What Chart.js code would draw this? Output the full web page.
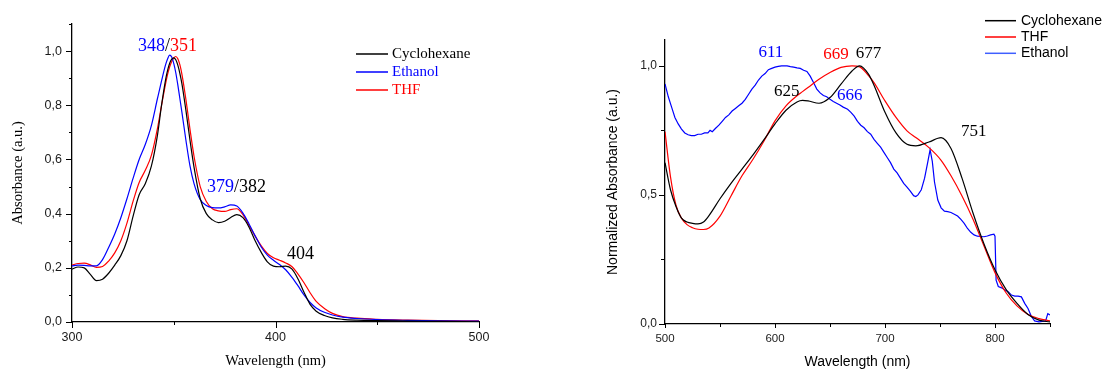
<!DOCTYPE html>
<html><head><meta charset="utf-8">
<script src="https://cdn.jsdelivr.net/npm/chart.js@4.4.1/dist/chart.umd.min.js"></script>
<style>
html,body{margin:0;padding:0;background:#fff;width:1103px;height:370px;overflow:hidden;}
#w1{position:absolute;left:0;top:0;width:560px;height:370px;}
#w2{position:absolute;left:560px;top:0;width:543px;height:370px;}
canvas{display:block;}
</style></head><body>
<div id="w1"><canvas id="c1" width="560" height="370"></canvas></div>
<div id="w2"><canvas id="c2" width="543" height="370"></canvas></div>
<script>
// ---------- LEFT PANEL DATA (absorbance) ----------
const leftWavelength = [300,303,306,309,312,315,318,321,324,327,330,333,336,339,342,344,346,347,348,349,350,351,352,353,354,356,358,360,363,366,369,372,375,378,381,384,387,390,393,396,399,402,405,408,411,414,417,420,424,428,433,440,450,465,480,500];
const leftCyclohexane = [0.195,0.203,0.200,0.176,0.153,0.158,0.180,0.210,0.245,0.300,0.390,0.470,0.510,0.575,0.690,0.800,0.895,0.930,0.955,0.970,0.975,0.968,0.948,0.918,0.880,0.780,0.670,0.570,0.455,0.400,0.377,0.367,0.372,0.386,0.396,0.385,0.350,0.300,0.257,0.222,0.206,0.204,0.206,0.196,0.160,0.110,0.065,0.040,0.024,0.015,0.010,0.007,0.005,0.003,0.002,0.001];
const leftEthanol = [0.207,0.210,0.209,0.207,0.207,0.230,0.275,0.325,0.385,0.455,0.530,0.600,0.655,0.725,0.825,0.890,0.950,0.972,0.985,0.978,0.955,0.920,0.875,0.825,0.775,0.670,0.575,0.510,0.452,0.430,0.422,0.421,0.425,0.432,0.428,0.402,0.362,0.318,0.277,0.247,0.228,0.212,0.193,0.166,0.134,0.100,0.072,0.052,0.036,0.026,0.018,0.013,0.009,0.006,0.004,0.003];
const leftTHF = [0.210,0.216,0.217,0.211,0.202,0.205,0.225,0.255,0.300,0.365,0.445,0.515,0.560,0.615,0.715,0.800,0.880,0.915,0.942,0.962,0.975,0.980,0.972,0.950,0.915,0.820,0.710,0.610,0.500,0.445,0.418,0.410,0.408,0.415,0.418,0.396,0.357,0.317,0.281,0.253,0.237,0.228,0.218,0.205,0.178,0.145,0.108,0.076,0.050,0.032,0.020,0.014,0.010,0.007,0.005,0.004];
const leftXTicks = [300,350,400,450,500];
const leftXLabels = ['300','','400','','500'];
const leftYTicks = [0,0.1,0.2,0.3,0.4,0.5,0.6,0.7,0.8,0.9,1.0,1.1];
const leftYLabels = ['0,0','','0,2','','0,4','','0,6','','0,8','','1,0',''];

// ---------- RIGHT PANEL DATA (normalized absorbance) ----------
const rightWavelength = [500,505,510,515,520,525,530,535,540,550,560,570,580,590,600,610,620,625,630,640,650,660,670,677,685,690,700,710,720,728,740,751,760,770,780,790,800,810,820,830,840,850];
const rightCyclohexane = [0.625,0.520,0.455,0.410,0.395,0.390,0.388,0.395,0.420,0.485,0.545,0.600,0.655,0.714,0.775,0.828,0.860,0.866,0.864,0.855,0.877,0.929,0.980,1.000,0.968,0.925,0.820,0.740,0.696,0.690,0.705,0.722,0.680,0.565,0.430,0.310,0.210,0.134,0.080,0.037,0.015,0.008];
const rightTHF = [0.745,0.570,0.460,0.410,0.385,0.373,0.367,0.366,0.372,0.418,0.496,0.574,0.638,0.709,0.787,0.845,0.884,0.900,0.916,0.948,0.974,0.994,1.000,0.996,0.962,0.935,0.864,0.800,0.748,0.722,0.683,0.634,0.574,0.496,0.406,0.302,0.199,0.121,0.070,0.037,0.021,0.012];
const rightEthanolWavelength = [500,503,506,509,512,515,518,521,524,527,530,533,536,539,541,543,546,549,552,555,558,561,564,567,570,573,576,579,582,585,588,591,594,597,600,603,606,611,614,617,620,623,626,629,632,635,638,641,644,647,650,653,656,659,662,666,669,672,675,678,681,684,687,690,693,696,699,702,705,708,711,714,717,720,723,726,728,730,733,736,739,741,743,745,748,751,754,757,760,763,766,769,772,775,778,781,784,787,790,793,796,799,800,801,803,806,809,812,815,818,821,824,827,830,833,836,840,843,846,848,850];
const rightEthanol = [0.930,0.880,0.840,0.800,0.775,0.755,0.740,0.733,0.730,0.730,0.735,0.735,0.740,0.740,0.750,0.745,0.758,0.770,0.785,0.800,0.810,0.825,0.835,0.845,0.855,0.870,0.890,0.910,0.925,0.945,0.960,0.970,0.985,0.990,0.995,0.998,1.000,1.000,0.997,0.995,0.992,0.990,0.983,0.978,0.960,0.935,0.910,0.895,0.885,0.880,0.870,0.862,0.855,0.848,0.840,0.832,0.820,0.805,0.785,0.770,0.760,0.745,0.735,0.715,0.700,0.685,0.665,0.645,0.625,0.600,0.585,0.565,0.545,0.530,0.515,0.497,0.494,0.500,0.520,0.565,0.630,0.675,0.630,0.550,0.480,0.450,0.437,0.435,0.432,0.425,0.418,0.405,0.390,0.370,0.355,0.345,0.340,0.339,0.338,0.341,0.345,0.348,0.340,0.170,0.145,0.140,0.132,0.125,0.112,0.108,0.108,0.105,0.080,0.060,0.030,0.012,0.008,0.010,0.012,0.040,0.035];
const rightXTicks = [500,550,600,650,700,750,800,850];
const rightXLabels = ['500','','600','','700','','800',''];
const rightYTicks = [0,0.25,0.5,0.75,1.0];
const rightYLabels = ['0,0','','0,5','','1,0'];

const BLUE = '#0000ff', RED = '#ff0000', BLACK = '#000000';

function zip(xs, ys) { return xs.map((x, i) => ({x: x, y: ys[i]})); }

const decorPlugin = {
  id: 'decor',
  afterDraw(chart, args, o) {
    const ctx = chart.ctx, xs = chart.scales.x, ys = chart.scales.y, ca = chart.chartArea;
    ctx.save();
    // tick marks (major / minor)
    ctx.strokeStyle = '#000'; ctx.lineWidth = 1;
    ctx.beginPath();
    o.xTicks.forEach((v, i) => {
      const px = Math.round(xs.getPixelForValue(v)) + 0.5;
      const len = o.xLabels[i] ? o.xMajor : o.xMinor;
      ctx.moveTo(px, ca.bottom); ctx.lineTo(px, ca.bottom + len);
    });
    o.yTicks.forEach((v, i) => {
      const py = Math.round(ys.getPixelForValue(v)) + 0.5;
      const len = o.yLabels[i] ? o.yMajor : o.yMinor;
      ctx.moveTo(ca.left, py); ctx.lineTo(ca.left - len, py);
    });
    ctx.stroke();
    // legend
    const L = o.legend;
    ctx.font = L.font; ctx.textBaseline = 'middle'; ctx.textAlign = 'left';
    L.items.forEach((it, i) => {
      const y = L.y + i * L.dy;
      ctx.strokeStyle = it.line; ctx.lineWidth = L.lw;
      ctx.beginPath(); ctx.moveTo(L.x, y); ctx.lineTo(L.x + L.len, y); ctx.stroke();
      ctx.fillStyle = it.text;
      ctx.fillText(it.label, L.x + L.len + L.gap, y);
    });
    // annotations
    ctx.textBaseline = 'alphabetic';
    o.notes.forEach(n => {
      ctx.font = o.noteFont;
      let x = xs.getPixelForValue(n.x);
      const y = ys.getPixelForValue(n.y);
      n.parts.forEach(p => {
        ctx.fillStyle = p[1];
        ctx.fillText(p[0], x, y);
        x += ctx.measureText(p[0]).width;
      });
    });
    ctx.restore();
  }
};

function buildChart(id, s) {
  const tickFont = {family: 'Liberation Sans', size: s.tickSize};
  return new Chart(document.getElementById(id), {
    type: 'line',
    data: {datasets: s.datasets.map(d => ({
      label: d.label, data: d.data, borderColor: d.color, backgroundColor: d.color,
      borderWidth: 1.2, pointRadius: 0, pointHoverRadius: 0, fill: false,
      cubicInterpolationMode: d.smooth ? 'monotone' : 'default', tension: 0
    }))},
    options: {
      responsive: false, animation: false, devicePixelRatio: 1,
      layout: {padding: s.padding},
      events: [],
      plugins: {legend: {display: false}, tooltip: {enabled: false}, decor: s.decor},
      scales: {
        x: {
          type: 'linear', min: s.xMin, max: s.xMax,
          afterBuildTicks: sc => { sc.ticks = s.decor.xTicks.map(v => ({value: v})); },
          afterFit: sc => { sc.height = s.xHeight; },
          grid: {display: true, drawOnChartArea: false, drawTicks: true, tickLength: s.xTickLen, tickColor: 'rgba(0,0,0,0)'},
          border: {display: true, color: '#000', width: 1.3},
          ticks: {autoSkip: false, maxRotation: 0, padding: s.xPad, font: Object.assign({}, tickFont, {size: s.xTickSize || s.tickSize}), color: s.tickColor,
                  callback: (v, i) => s.decor.xLabels[i]},
          title: {display: true, text: 'Wavelength (nm)', color: '#000', font: {family: s.titleFamily, size: s.titleSize, lineHeight: 1}, padding: {top: 0, bottom: s.xTitlePad}}
        },
        y: {
          type: 'linear', min: s.yMin, max: s.yMax,
          afterBuildTicks: sc => { sc.ticks = s.decor.yTicks.map(v => ({value: v})); },
          afterFit: sc => { sc.width = s.yWidth; },
          grid: {display: true, drawOnChartArea: false, drawTicks: true, tickLength: s.yTickLen, tickColor: 'rgba(0,0,0,0)'},
          border: {display: true, color: '#000', width: 1.3},
          ticks: {autoSkip: false, padding: s.yPad, font: tickFont, color: s.tickColor,
                  callback: (v, i) => s.decor.yLabels[i]},
          title: {display: true, text: s.yTitle, color: '#000', font: {family: s.titleFamily, size: s.titleSize, lineHeight: 1}, padding: {top: s.yTitlePad, bottom: 0}}
        }
      }
    },
    plugins: [decorPlugin]
  });
}

buildChart('c1', {
  datasets: [
    {label: 'Cyclohexane', data: zip(leftWavelength, leftCyclohexane), color: BLACK, smooth: true},
    {label: 'Ethanol', data: zip(leftWavelength, leftEthanol), color: BLUE, smooth: true},
    {label: 'THF', data: zip(leftWavelength, leftTHF), color: RED, smooth: true}
  ],
  padding: {top: 24, right: 81, bottom: 0, left: 0},
  xMin: 300, xMax: 500, yMin: 0, yMax: 1.1,
  xHeight: 48, yWidth: 72, xTickLen: 6, yTickLen: 6, xPad: 2, yPad: 4,
  tickSize: 12.5, tickColor: '#1a1a1a',
  titleFamily: 'Liberation Serif', titleSize: 14.5, xTitlePad: 1.75, yTitlePad: 10.75,
  yTitle: 'Absorbance (a.u.)',
  decor: {
    xTicks: leftXTicks, xLabels: leftXLabels, yTicks: leftYTicks, yLabels: leftYLabels,
    xMajor: 6, xMinor: 3, yMajor: 6, yMinor: 3,
    legend: {x: 356, y: 54, dy: 18, len: 32, gap: 4, lw: 1.5, font: '15px "Liberation Serif"',
      items: [
        {label: 'Cyclohexane', line: BLACK, text: BLACK},
        {label: 'Ethanol', line: BLUE, text: BLUE},
        {label: 'THF', line: RED, text: RED}
      ]},
    noteFont: '18px "Liberation Serif"',
    notes: [
      {x: 332.4, y: 1.0, parts: [['348', BLUE], ['/', BLACK], ['351', RED]]},
      {x: 366.3, y: 0.48, parts: [['379', BLUE], ['/382', BLACK]]},
      {x: 405.7, y: 0.233, parts: [['404', BLACK]]}
    ]
  }
});

buildChart('c2', {
  datasets: [
    {label: 'Cyclohexane', data: zip(rightWavelength, rightCyclohexane), color: BLACK, smooth: true},
    {label: 'THF', data: zip(rightWavelength, rightTHF), color: RED, smooth: true},
    {label: 'Ethanol', data: zip(rightEthanolWavelength, rightEthanol), color: BLUE, smooth: false}
  ],
  padding: {top: 40, right: 53, bottom: 0, left: 0},
  xMin: 500, xMax: 850, yMin: 0, yMax: 1.1,
  xHeight: 46, yWidth: 105, xTickLen: 6, yTickLen: 6, xPad: 2, yPad: 2,
  tickSize: 12, xTickSize: 11.5, tickColor: '#222',
  titleFamily: 'Liberation Sans', titleSize: 14, xTitlePad: 1.3, yTitlePad: 46,
  yTitle: 'Normalized Absorbance (a.u.)',
  decor: {
    xTicks: rightXTicks, xLabels: rightXLabels, yTicks: rightYTicks, yLabels: rightYLabels,
    xMajor: 4, xMinor: 3, yMajor: 6, yMinor: 4,
    legend: {x: 425, y: 20.7, dy: 16.3, len: 31, gap: 5, lw: 1.5, font: '14px "Liberation Sans"',
      items: [
        {label: 'Cyclohexane', line: BLACK, text: BLACK},
        {label: 'THF', line: RED, text: BLACK},
        {label: 'Ethanol', line: '#3f5fff', text: BLACK}
      ]},
    noteFont: '17px "Liberation Serif"',
    notes: [
      {x: 585, y: 1.035, parts: [['611', BLUE]]},
      {x: 643.9, y: 1.028, parts: [['669', RED]]},
      {x: 673.3, y: 1.03, parts: [['677', BLACK]]},
      {x: 599.1, y: 0.882, parts: [['625', BLACK]]},
      {x: 656.4, y: 0.869, parts: [['666', BLUE]]},
      {x: 769.1, y: 0.727, parts: [['751', BLACK]]}
    ]
  }
});
</script>
</body></html>
